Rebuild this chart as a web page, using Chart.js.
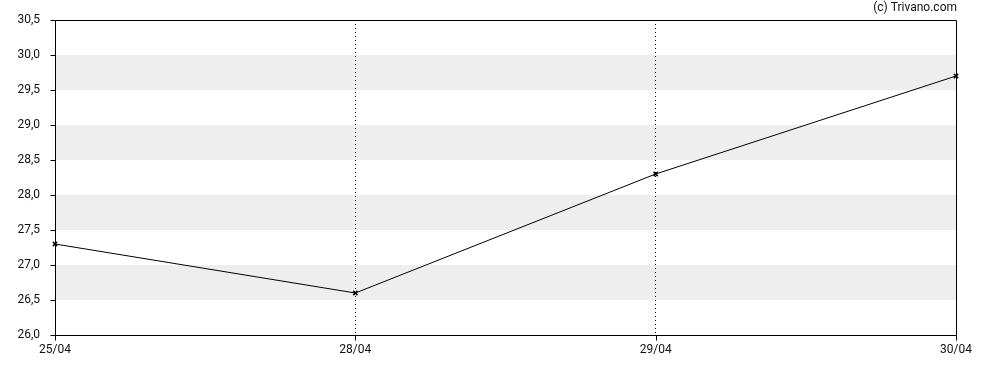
<!DOCTYPE html>
<html>
<head>
<meta charset="utf-8">
<script src="https://cdn.jsdelivr.net/npm/chart.js@4/dist/chart.umd.min.js"></script>
<style>
html,body{margin:0;padding:0;background:#fff;}
#wrap{width:988px;height:370px;position:relative;}
</style>
</head>
<body>
<div id="wrap"><canvas id="c" width="988" height="370"></canvas></div>
<script>
const categories = ['25/04', '28/04', '29/04', '30/04'];
const values = [27.3, 26.6, 28.3, 29.7];
const yMin = 26.0, yMax = 30.5, yStep = 0.5;
const bands = [[26.5, 27.0], [27.5, 28.0], [28.5, 29.0], [29.5, 30.0]];
const credit = '(c) Trivano.com';

const FONT = 'Roboto, "Liberation Sans", Arial, sans-serif';

const decor = {
  id: 'decor',
  beforeDraw(chart) {
    const {ctx, chartArea: a, scales: {y}} = chart;
    ctx.save();
    ctx.fillStyle = '#eeeeee';
    bands.forEach(([lo, hi]) => {
      const y1 = y.getPixelForValue(hi), y2 = y.getPixelForValue(lo);
      ctx.fillRect(a.left, y1, a.right - a.left, y2 - y1);
    });
    ctx.restore();
  },
  afterDraw(chart) {
    const {ctx, chartArea: a, scales: {x, y}} = chart;
    ctx.save();
    ctx.strokeStyle = '#000';
    ctx.lineWidth = 1;
    const L = Math.round(a.left) + 0.5, R = Math.round(a.right) + 0.5;
    const T = Math.round(a.top) + 0.5, B = Math.round(a.bottom) + 0.5;
    ctx.beginPath();
    ctx.rect(L, T, R - L, B - T);
    y.ticks.forEach((t) => {
      const py = Math.round(y.getPixelForValue(t.value)) + 0.5;
      ctx.moveTo(L - 5, py); ctx.lineTo(L, py);
    });
    x.ticks.forEach((t, i) => {
      const px = Math.round(x.getPixelForValue(i)) + 0.5;
      ctx.moveTo(px, B); ctx.lineTo(px, B + 5);
    });
    ctx.stroke();
    ctx.fillStyle = '#111';
    ctx.font = '12px ' + FONT;
    ctx.textAlign = 'right';
    ctx.textBaseline = 'middle';
    ctx.fillText(credit, 957, 8);
    ctx.restore();
  }
};

new Chart(document.getElementById('c'), {
  type: 'line',
  data: {
    labels: categories,
    datasets: [{
      data: values,
      borderColor: '#000',
      borderWidth: 1,
      tension: 0,
      fill: false,
      pointStyle: 'crossRot',
      pointRadius: 3,
      pointBorderWidth: 1.5,
      pointBorderColor: '#000',
      pointBackgroundColor: '#000'
    }]
  },
  options: {
    responsive: false,
    animation: false,
    devicePixelRatio: 1,
    layout: {padding: {top: 20, right: 32, left: 0, bottom: 0}},
    plugins: {legend: {display: false}, tooltip: {enabled: false}},
    scales: {
      x: {
        type: 'category',
        offset: false,
        afterFit(s) { s.height = 35; },
        grid: {
          drawTicks: false,
          lineWidth: 1,
          color: (c) => (c.index === 0 || c.index === categories.length - 1) ? 'rgba(0,0,0,0)' : '#000'
        },
        border: {display: false, dash: [1, 3]},
        ticks: {
          padding: 8,
          color: '#111',
          font: {family: FONT, size: 12},
          maxRotation: 0,
          autoSkip: false
        }
      },
      y: {
        min: yMin,
        max: yMax,
        afterFit(s) { s.width = 55; },
        grid: {display: false},
        border: {display: false},
        ticks: {
          stepSize: yStep,
          padding: 7,
          color: '#111',
          font: {family: FONT, size: 12},
          callback: (v) => Number(v).toFixed(1).replace('.', ',')
        }
      }
    }
  },
  plugins: [decor]
});
</script>
</body>
</html>
